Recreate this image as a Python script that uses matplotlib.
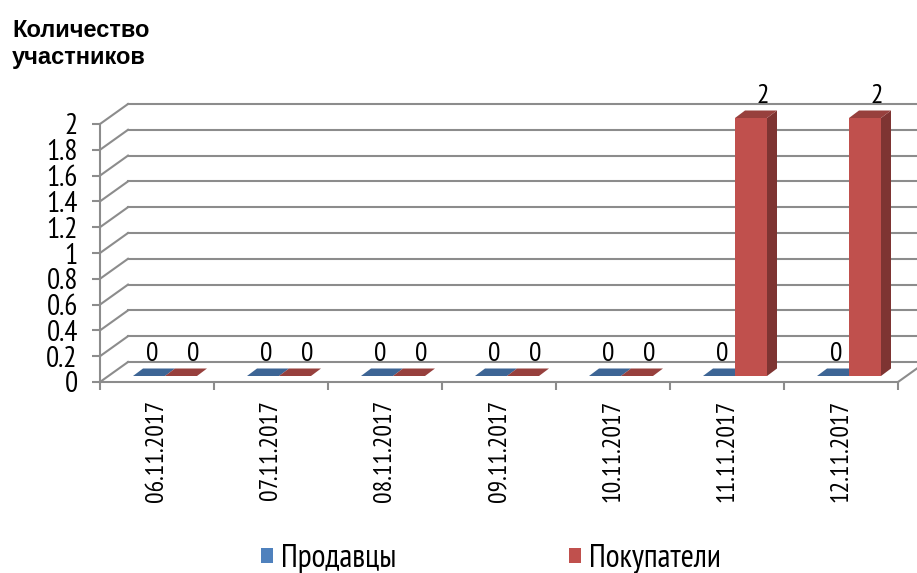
import matplotlib
matplotlib.use("Agg")
import matplotlib.pyplot as plt
from matplotlib.patches import Polygon, Patch
from matplotlib.ticker import FixedLocator

# данные
dates = ["06.11.2017", "07.11.2017", "08.11.2017", "09.11.2017",
         "10.11.2017", "11.11.2017", "12.11.2017"]
sellers = [0, 0, 0, 0, 0, 0, 0]
buyers = [0, 0, 0, 0, 0, 2, 2]
series_names = ["Продавцы", "Покупатели"]
y_ticks = [0, 0.2, 0.4, 0.6, 0.8, 1, 1.2, 1.4, 1.6, 1.8, 2]

narrow = ['PT Sans Narrow', 'DejaVu Sans']
grid_c = "#8c8c8c"

# цвета граней (передняя, верх, бок)
blue = ("#4F81BD", "#3D6595", "#35598A")
red = ("#C0504D", "#97403D", "#7E3432")

fig = plt.figure(figsize=(9.17, 5.73), dpi=100)
W, H = 917, 573
ax = fig.add_axes([100 / W, 191 / H, 798 / W, 258 / H])
ax.set_xlim(0, 7)
ax.set_ylim(0, 2)

# пересчёт пикселей в единицы данных
ux, uy = 114.0, 129.0
wall = (28 / ux, 20 / uy)      # глубина задней стенки
front = (8 / ux, 6 / uy)       # смещение передней грани столбика
depth = (10 / ux, 7.5 / uy)    # глубина столбика
bw = 32 / ux                   # ширина столбика

# задняя стенка: линии сетки и диагонали
for v in y_ticks:
    ax.plot([0, wall[0]], [v, v + wall[1]], color=grid_c, lw=1.5, clip_on=False, zorder=1)
    ax.plot([wall[0], 7 + wall[0]], [v + wall[1], v + wall[1]], color=grid_c, lw=1.5,
            clip_on=False, zorder=1)
# правый край пола
ax.plot([7, 7 + wall[0]], [0, wall[1]], color=grid_c, lw=1.5, clip_on=False, zorder=1)


def bar3d(x0, h, cols):
    y0 = front[1]
    x1 = x0 + bw
    dx, dy = depth
    if h > 0:
        # передняя и боковая грани
        ax.add_patch(Polygon([(x0, y0), (x1, y0), (x1, y0 + h), (x0, y0 + h)],
                             closed=True, fc=cols[0], ec='none', zorder=3, clip_on=False))
        ax.add_patch(Polygon([(x1, y0), (x1 + dx, y0 + dy), (x1 + dx, y0 + dy + h), (x1, y0 + h)],
                             closed=True, fc=cols[2], ec='none', zorder=3, clip_on=False))
    ax.add_patch(Polygon([(x0, y0 + h), (x1, y0 + h), (x1 + dx, y0 + h + dy), (x0 + dx, y0 + h + dy)],
                         closed=True, fc=cols[1], ec='none', zorder=3, clip_on=False))


for i, (s, b) in enumerate(zip(sellers, buyers)):
    c = i + 0.5 + front[0]
    bar3d(c - bw, s, blue)
    bar3d(c, b, red)
    ax.text(c - bw / 2 + depth[0] / 2 - 0.02, s + 0.22, f"{s:g}", ha='center', va='center',
            fontsize=20, family=narrow, zorder=4)
    ax.text(c + bw / 2 + depth[0] / 2 + 0.06, b + 0.22, f"{b:g}", ha='center', va='center',
            fontsize=20, family=narrow, zorder=4)

# оси
for side in ['top', 'right']:
    ax.spines[side].set_visible(False)
for side in ['left', 'bottom']:
    ax.spines[side].set_color(grid_c)
    ax.spines[side].set_linewidth(1.5)
    ax.spines[side].set_zorder(2)

ax.set_yticks(y_ticks)
ax.set_yticklabels([f"{v:g}" for v in y_ticks], family=narrow, fontsize=21)
ax.tick_params(axis='y', direction='out', length=6, width=1.5, color=grid_c, pad=10)

ax.set_xticks([i + 0.5 for i in range(len(dates))])
ax.set_xticklabels(dates, rotation=90, family=narrow, fontsize=18.5)
ax.xaxis.set_minor_locator(FixedLocator(list(range(len(dates) + 1))))
ax.tick_params(axis='x', which='major', length=0, pad=13)
ax.tick_params(axis='x', which='minor', direction='out', length=6, width=1.5, color=grid_c)

# заголовок оси
fig.text(12 / W, 1 - 19 / H, "Количество\nучастников", ha='left', va='top',
         fontsize=17, fontweight='bold', family=['Liberation Sans', 'DejaVu Sans'],
         linespacing=1.2)

# легенда
handles = [Patch(fc=blue[0], ec='none'), Patch(fc=red[0], ec='none')]
fig.legend(handles, series_names, loc='center', bbox_to_anchor=(491 / W, 14 / H), ncol=2,
           frameon=False, prop={'family': narrow, 'size': 23}, handlelength=0.38,
           handleheight=0.38, handletextpad=0.25, columnspacing=5.4, borderpad=0)

fig.savefig("out.png", dpi=100)
